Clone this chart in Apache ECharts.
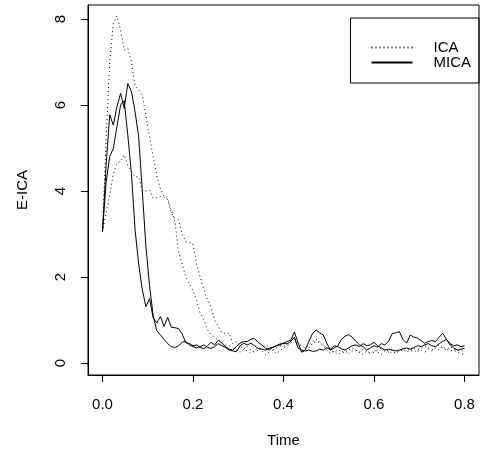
<!DOCTYPE html>
<html>
<head>
<meta charset="utf-8">
<script src="https://cdn.jsdelivr.net/npm/echarts@6/dist/echarts.min.js"></script>
<style>
  html, body { margin: 0; padding: 0; background: #fff; }
  #chart { width: 487px; height: 454px; }
</style>
</head>
<body>
<div id="chart"></div>
<script>
// values sampled every 0.008 time units, 0 .. 0.8
var TIME_STEP = 0.008;

var icaA = [
  3.05, 5.2, 7.0, 7.9, 8.07, 7.74, 7.28, 7.32, 7.0, 6.45,
  6.35, 6.23, 5.75, 5.26, 4.8, 4.35, 4.05, 3.88, 3.82, 3.55,
  3.3, 2.6, 2.3, 2.0, 1.85, 1.68, 1.45, 1.15, 1.0, 0.77,
  0.65, 0.6, 0.52, 0.5, 0.42, 0.4, 0.35, 0.3, 0.25, 0.32,
  0.28, 0.22, 0.3, 0.35, 0.28, 0.2, 0.25, 0.3, 0.22, 0.28,
  0.35, 0.4, 0.45, 0.55, 0.38, 0.3, 0.25, 0.35, 0.45, 0.5,
  0.48, 0.4, 0.3, 0.22, 0.28, 0.2, 0.25, 0.3, 0.22, 0.28,
  0.3, 0.25, 0.2, 0.28, 0.22, 0.3, 0.25, 0.2, 0.28, 0.25,
  0.3, 0.22, 0.28, 0.32, 0.25, 0.3, 0.35, 0.28, 0.3, 0.25,
  0.32, 0.28, 0.35, 0.3, 0.38, 0.32, 0.28, 0.3, 0.25, 0.22,
  0.2
];

var icaB = [
  3.05, 3.5, 3.9, 4.4, 4.65, 4.68, 4.84, 4.6, 4.45, 4.33,
  4.33, 4.0, 4.0, 4.02, 3.83, 3.84, 3.87, 3.86, 3.8, 3.5,
  3.37, 3.33, 3.0, 2.82, 2.8, 2.78, 2.3, 2.0, 1.7, 1.47,
  1.3, 1.0, 0.85, 0.7, 0.68, 0.7, 0.45, 0.5, 0.4, 0.32,
  0.38, 0.3, 0.25, 0.3, 0.35, 0.42, 0.38, 0.3, 0.35, 0.4,
  0.38, 0.45, 0.5, 0.6, 0.45, 0.4, 0.35, 0.42, 0.5, 0.55,
  0.5, 0.42, 0.35, 0.3, 0.25, 0.3, 0.28, 0.22, 0.3, 0.35,
  0.3, 0.25, 0.32, 0.28, 0.22, 0.25, 0.3, 0.35, 0.3, 0.28,
  0.22, 0.25, 0.3, 0.28, 0.35, 0.3, 0.25, 0.3, 0.35, 0.4,
  0.35, 0.3, 0.38, 0.42, 0.35, 0.3, 0.38, 0.32, 0.28, 0.3,
  0.25
];

var micaA = [
  3.05, 4.6, 5.77, 5.53, 5.96, 6.27, 5.92, 6.5, 6.31, 5.84,
  5.26, 4.0, 2.7, 1.8, 1.1, 0.75, 0.65, 0.55, 0.45, 0.38,
  0.36, 0.4, 0.48, 0.5, 0.42, 0.38, 0.35, 0.38, 0.42, 0.36,
  0.34, 0.38, 0.45, 0.4, 0.36, 0.3, 0.28, 0.26, 0.4, 0.46,
  0.42, 0.46, 0.4, 0.34, 0.32, 0.3, 0.34, 0.36, 0.4, 0.42,
  0.46, 0.44, 0.5, 0.6, 0.35, 0.3, 0.28, 0.3, 0.27, 0.28,
  0.32, 0.3, 0.35, 0.32, 0.4, 0.38, 0.33, 0.3, 0.35, 0.4,
  0.42, 0.38, 0.45, 0.4, 0.42, 0.48, 0.4, 0.35, 0.3, 0.32,
  0.3, 0.28, 0.3, 0.33, 0.35, 0.32, 0.36, 0.4, 0.38, 0.42,
  0.45, 0.4, 0.38, 0.45, 0.5, 0.55, 0.45, 0.4, 0.42, 0.38,
  0.4
];

var micaB = [
  3.05, 4.2, 4.8, 4.99, 5.5, 6.0, 6.1, 5.3, 4.4, 3.1,
  2.3, 1.7, 1.31, 1.5, 1.05, 0.93, 1.08, 0.85, 1.06, 0.83,
  0.82, 0.8, 0.68, 0.47, 0.45, 0.4, 0.42, 0.36, 0.33, 0.4,
  0.48, 0.42, 0.53, 0.46, 0.38, 0.32, 0.3, 0.38, 0.46, 0.5,
  0.5, 0.55, 0.57, 0.48, 0.42, 0.35, 0.3, 0.36, 0.4, 0.44,
  0.46, 0.5, 0.53, 0.72, 0.48, 0.25, 0.3, 0.5, 0.68, 0.77,
  0.7, 0.65, 0.45, 0.3, 0.35, 0.4, 0.55, 0.62, 0.66, 0.6,
  0.5, 0.42, 0.38, 0.3, 0.35, 0.4, 0.37, 0.45, 0.42, 0.5,
  0.68, 0.7, 0.73, 0.55, 0.46, 0.65, 0.6, 0.58, 0.52, 0.46,
  0.5, 0.52, 0.5, 0.6, 0.69, 0.55, 0.42, 0.35, 0.3, 0.32,
  0.34
];

var xTicks = [0, 0.2, 0.4, 0.6, 0.8];
var yTicks = [0, 2, 4, 6, 8];

function pairs(vals) {
  return vals.map(function (v, i) {
    return [+(i * TIME_STEP).toFixed(3), v];
  });
}

var FONT = 'Liberation Sans, Arial, Helvetica, sans-serif';
var chart = echarts.init(document.getElementById('chart'), null, { renderer: 'canvas' });

var dotted = { color: '#000', width: 1, type: [1, 3] };
var solid = { color: '#000', width: 1, type: 'solid' };

var option = {
  animation: false,
  backgroundColor: '#fff',
  textStyle: { fontFamily: FONT, color: '#000' },
  grid: {
    left: 88, right: 8, top: 5, bottom: 79,
    show: true, borderColor: '#000', borderWidth: 1
  },
  legend: {
    data: ['ICA', 'MICA'],
    orient: 'vertical',
    right: 8,
    top: 18,
    padding: [22, 8, 13, 20],
    itemGap: 0,
    itemWidth: 41,
    itemHeight: 10,
    borderColor: '#000',
    borderWidth: 1,
    borderRadius: 0,
    // line only, no marker in the key
    itemStyle: { color: 'transparent', borderColor: 'transparent', borderWidth: 0 },
    textStyle: {
      fontFamily: FONT, fontSize: 15, color: '#000',
      lineHeight: 13.5, padding: [0, 0, 0, 16]
    }
  },
  xAxis: {
    type: 'value',
    min: -0.032,
    max: 0.832,
    name: 'Time',
    nameLocation: 'middle',
    nameGap: 58,
    nameTextStyle: { fontFamily: FONT, fontSize: 15, color: '#000' },
    splitLine: { show: false },
    axisLine: { show: true, onZero: false, lineStyle: { color: '#000', width: 1 } },
    axisTick: { show: true, length: 7, lineStyle: { color: '#000' }, customValues: xTicks },
    axisLabel: {
      fontFamily: FONT, fontSize: 15, color: '#000', margin: 22,
      customValues: xTicks,
      formatter: function (v) { return v.toFixed(1); }
    }
  },
  yAxis: {
    type: 'value',
    min: -0.28,
    max: 8.326,
    name: 'E-ICA',
    nameLocation: 'middle',
    nameGap: 58,
    nameRotate: 90,
    nameTextStyle: { fontFamily: FONT, fontSize: 15, color: '#000' },
    splitLine: { show: false },
    axisLine: { show: true, onZero: false, lineStyle: { color: '#000', width: 1 } },
    axisTick: { show: true, length: 7, lineStyle: { color: '#000' }, customValues: yTicks },
    axisLabel: {
      fontFamily: FONT, fontSize: 15, color: '#000', margin: 20, rotate: 90,
      customValues: yTicks
    }
  },
  series: [
    { name: 'ICA', type: 'line', data: pairs(icaA), symbol: 'none', lineStyle: dotted, itemStyle: { color: '#000' } },
    { name: 'ICA', type: 'line', data: pairs(icaB), symbol: 'none', lineStyle: dotted, itemStyle: { color: '#000' } },
    { name: 'MICA', type: 'line', data: pairs(micaA), symbol: 'none', lineStyle: solid, itemStyle: { color: '#000' } },
    { name: 'MICA', type: 'line', data: pairs(micaB), symbol: 'none', lineStyle: solid, itemStyle: { color: '#000' } }
  ]
};

chart.setOption(option);
</script>
</body>
</html>
